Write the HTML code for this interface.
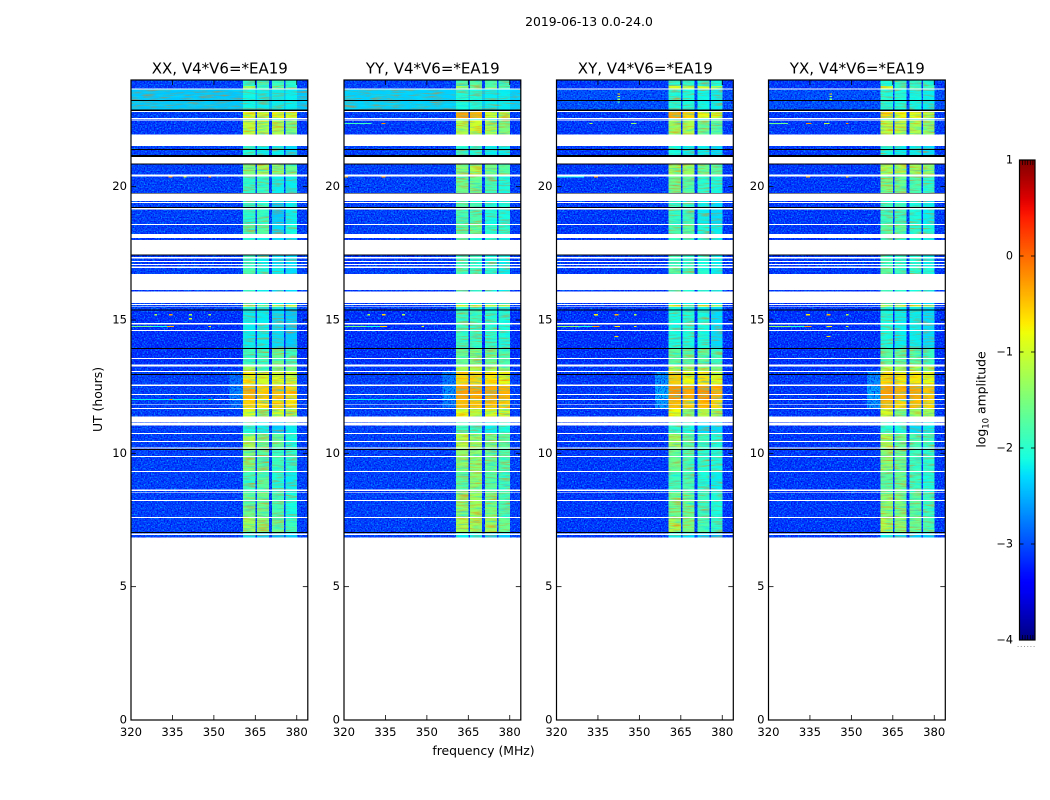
<!DOCTYPE html>
<html lang="en">
<head>
<meta charset="utf-8">
<title>2019-06-13 0.0-24.0 amplitude waterfalls</title>
<style>
html,body{margin:0;padding:0;background:#fff;}
svg{display:block;}
text{font-family:"DejaVu Sans","Liberation Sans",sans-serif;fill:#000;}
</style>
</head>
<body>
<svg id="figure" xmlns="http://www.w3.org/2000/svg" width="1050" height="800" viewBox="0 0 1050 800">
  <defs>
    <filter id="speckle" x="0" y="0" width="100%" height="100%" color-interpolation-filters="sRGB">
      <feTurbulence type="fractalNoise" baseFrequency="0.7" numOctaves="1" seed="7" result="noise"/>
      <feColorMatrix in="noise" type="matrix" values="0 0 0 0 0  0 0 0 0 0.6  0 0 0 0 1  3 0 0 0 -1.3" result="lightSpeck"/>
      <feColorMatrix in="noise" type="matrix" values="0 0 0 0 0  0 0 0 0 0  0 0 0 0 0.9  0 3 0 0 -1.4" result="darkSpeck"/>
      <feComposite in="lightSpeck" in2="SourceAlpha" operator="in" result="lightIn"/>
      <feComposite in="darkSpeck" in2="SourceAlpha" operator="in" result="darkIn"/>
      <feMerge><feMergeNode in="SourceGraphic"/><feMergeNode in="lightIn"/><feMergeNode in="darkIn"/></feMerge>
    </filter>
    <filter id="ripple" x="0" y="0" width="100%" height="100%" color-interpolation-filters="sRGB">
      <feTurbulence type="fractalNoise" baseFrequency="0.07 0.6" numOctaves="2" seed="11" result="noise"/>
      <feColorMatrix in="noise" type="matrix" values="0 0 0 0 1  0 0 0 0 0.45  0 0 0 0 0  1.6 0 0 0 -0.75" result="warm"/>
      <feColorMatrix in="noise" type="matrix" values="0 0 0 0 0  0 0 0 0 0.9  0 0 0 0 1  0 1.6 0 0 -0.75" result="cool"/>
      <feComposite in="warm" in2="SourceAlpha" operator="in" result="warmIn"/>
      <feComposite in="cool" in2="SourceAlpha" operator="in" result="coolIn"/>
      <feMerge><feMergeNode in="SourceGraphic"/><feMergeNode in="warmIn"/><feMergeNode in="coolIn"/></feMerge>
    </filter>
    <linearGradient id="jet-gradient" x1="0" y1="1" x2="0" y2="0"></linearGradient>
  </defs>
  <text x="589" y="26" font-size="12.4" text-anchor="middle">2019-06-13 0.0-24.0</text>
  <text x="483.5" y="755" font-size="12.4" text-anchor="middle">frequency (MHz)</text>
  <text x="0" y="0" font-size="12.4" text-anchor="middle" transform="translate(102,399.5) rotate(-90)">UT (hours)</text>
  <text x="0" y="0" font-size="12.4" text-anchor="middle" transform="translate(985.5,399.5) rotate(-90)">log<tspan font-size="8.5" dy="3">10</tspan><tspan dy="-3"> amplitude</tspan></text>
  <g id="panels"></g>
  <g id="colorbar"></g>
</svg>
<script>
// ---------- axis values ----------
const panelTitles = ["XX, V4*V6=*EA19", "YY, V4*V6=*EA19", "XY, V4*V6=*EA19", "YX, V4*V6=*EA19"];
const xTicks = [320, 335, 350, 365, 380];
const yTicks = [0, 5, 10, 15, 20];
const cbarTicks = [1, 0, -1, -2, -3, -4];

// ---------- heatmap rows: UT hour of each row's top edge; last row ends at 0 h ----------
const WHITE = -1;
const BLACK = -2;
const rowHours = [24,23.775,23.69,23.64,23.25,23.21,22.89,22.84,22.8,22.575,22.54,22.52,22.48,21.95,21.525,21.41,21.375,21.19,21.11,20.87,20.83,20.46,20.38,19.76,19.74,19.46,19.425,19.39,19.24,19.2,19.14,18.6,18.56,18.225,18.075,18,17.46,17.42,17.36,17.31,17.21,17.175,17.1,17.06,17.01,16.95,16.725,16.125,16.07,15.64,15.6,15.56,15.51,15.49,15.39,15.36,14.89,14.83,14.625,14.59,13.95,13.91,13.575,13.54,13.33,13.26,13.09,13.05,12.975,12.94,12.58,12.525,12.225,12.19,12.04,12,11.83,11.81,11.7,11.66,11.38,11.16,11.14,11.04,10.76,10.725,10.46,10.425,10.22,10.18,10.16,10.125,9.9,9.86,9.34,9.3,8.64,8.59,8.55,8.53,8.25,8.21,7.61,7.575,7.05,7.01,6.99,6.94,6.84];
const rowProfile = [0,1,WHITE,2,BLACK,2,BLACK,WHITE,3,WHITE,5,WHITE,4,WHITE,5,BLACK,5,BLACK,WHITE,BLACK,6,WHITE,7,BLACK,WHITE,5,WHITE,8,BLACK,WHITE,8,WHITE,9,WHITE,10,WHITE,BLACK,10,WHITE,10,WHITE,10,WHITE,10,WHITE,11,WHITE,10,WHITE,5,WHITE,12,WHITE,5,BLACK,13,WHITE,13,WHITE,13,BLACK,14,WHITE,14,WHITE,15,WHITE,16,BLACK,16,WHITE,17,WHITE,17,WHITE,18,WHITE,18,WHITE,19,WHITE,20,WHITE,20,WHITE,21,WHITE,21,WHITE,22,BLACK,22,WHITE,22,WHITE,23,WHITE,23,WHITE,24,WHITE,24,WHITE,25,BLACK,26,WHITE,26,WHITE];

// ---------- heatmap columns: frequency edges (MHz) and the profile slot each column reads ----------
const freqEdges = [320,355.7,360.6,365,365.6,370,371,375.4,376,380,384];
const columnSlot = [0,5,1,0,2,0,3,0,4,0];

// ---------- log10 amplitude per profile: background, band1..band4, optional shoulder ----------
const xxLevels = [[-3.1,-2,-1.9,-1.9,-2],[-3.1,-1.3,-1.9,-1.7,-1.9],[-2.4,-2.15,-2.2,-2.2,-2.2],[-3.1,-0.9,-1,-0.75,-1],[-3.15,-1.05,-1.15,-1.2,-1.5],[-3.1,-2.1,-2.2,-2.2,-2.3],[-3.1,-1.5,-1.3,-1.4,-1.6],[-3.1,-2,-1.9,-2.2,-2.2],[-3.1,-2,-1.9,-2.4,-2.2],[-3.1,-1.8,-1.7,-2.3,-2.1],[-3.15,-2,-2.2,-2.3,-2.3],[-3.1,-1.8,-2.1,-2.2,-2.3],[-3.1,-1,-1.6,-1.1,-1.1],[-3.2,-2.2,-2.2,-2.3,-2.4],[-3.2,-1.9,-1.9,-1.6,-1.9],[-3.15,-1.3,-1.7,-1.5,-1.6],[-3.1,-0.7,-1,-0.85,-1,-2.8],[-3.1,-0.4,-0.55,-0.45,-0.6,-2.7],[-3.1,-0.6,-0.7,-0.6,-0.7,-2.8],[-3.1,-0.95,-1.5,-0.95,-1.1],[-3.1,-2.1,-2.2,-2.4,-2.2],[-3.1,-1.2,-1.6,-1.7,-2.1],[-3.1,-1.5,-1.7,-1.9,-2],[-3.1,-1.9,-1.7,-2.1,-2.2],[-3.1,-1.6,-1.6,-1.8,-2.1],[-3.1,-1.3,-1.4,-1.6,-1.9],[-3.1,-2.3,-2.4,-2.5,-2.4]];
const yyLevels = [[-3.1,-1.8,-1.7,-1.8,-1.9],[-3.1,-1.2,-1.7,-1.6,-1.8],[-2.35,-2.1,-2.1,-2.2,-2.2],[-3.1,-0.35,-0.4,-1,-1.2],[-3.15,-1.2,-1,-1.2,-1.5],[-3.1,-2,-2.1,-2.2,-2.2],[-3.1,-1.4,-1.2,-1.5,-1.7],[-3.1,-1.6,-1.6,-1.9,-2.1],[-3.1,-1.8,-1.8,-2.1,-2.1],[-3.1,-1.7,-1.6,-2,-2],[-3.15,-1.9,-2,-2.1,-2.2],[-3.1,-1.8,-1.9,-2,-2.2],[-3.1,-1,-1.1,-1.1,-1.2],[-3.2,-1.9,-1.9,-2,-2.1],[-3.2,-1.6,-1.5,-1.6,-1.8],[-3.15,-1.2,-1.2,-1.3,-1.4],[-3.1,-0.6,-0.6,-0.7,-0.8,-2.75],[-3.1,-0.3,-0.35,-0.35,-0.4,-2.6],[-3.1,-0.45,-0.5,-0.5,-0.55,-2.75],[-3.1,-0.85,-1.1,-0.95,-1],[-3.1,-1.9,-2,-2.2,-2.1],[-3.1,-1.1,-1.3,-1.5,-1.7],[-3.1,-1.4,-1.4,-1.6,-1.8],[-3.1,-1.7,-1.4,-1.7,-1.9],[-3.1,-1.4,-1.3,-1.5,-1.8],[-3.1,-1.2,-1.2,-1.3,-1.6],[-3.1,-2.2,-2.2,-2.4,-2.4]];
const xyLevels = [[-3.15,-2.05,-2,-2,-2.1],[-3.15,-0.95,-1.1,-1,-1.2],[-3,-2.05,-2.1,-2.15,-2.2],[-3.15,-0.35,-0.6,-0.8,-0.9],[-3.15,-1.3,-1.2,-1.6,-1.7],[-3.15,-2.1,-2.2,-2.2,-2.3],[-3.15,-1.3,-1.3,-1.6,-1.7],[-3.15,-1.6,-1.7,-2,-2.1],[-3.15,-1.9,-1.9,-2.2,-2.3],[-3.15,-1.8,-1.7,-2.1,-2.2],[-3.15,-1.9,-2,-2.1,-2.2],[-3.15,-1.7,-1.9,-2,-2.2],[-3.15,-1,-1.4,-1.1,-1.2],[-3.2,-2.1,-2.1,-2.1,-2.3],[-3.2,-1.7,-1.7,-1.7,-1.9],[-3.15,-1.1,-1.4,-1.3,-1.5],[-3.15,-0.55,-0.8,-0.7,-0.9,-2.6],[-3.15,-0.25,-0.35,-0.25,-0.4,-2.45],[-3.15,-0.45,-0.55,-0.45,-0.6,-2.55],[-3.15,-0.8,-1.4,-1.2,-1.3],[-3.15,-2,-2.1,-2.3,-2.3],[-3.15,-1.3,-1.7,-1.9,-2.1],[-3.15,-1.6,-1.8,-2,-2.1],[-3.15,-1.9,-1.8,-2.1,-2.2],[-3.15,-1.6,-1.6,-1.9,-2.1],[-3.15,-1.2,-1.5,-1.8,-2],[-3.15,-2.2,-2.3,-2.4,-2.5]];
const yxLevels = [[-3.15,-2.05,-2,-2,-2.1],[-3.15,-1,-1.9,-1.8,-1.9],[-3,-2.05,-2.1,-2.15,-2.2],[-3.15,-0.6,-0.8,-0.9,-1.1],[-3.15,-1.1,-1.1,-1.2,-1.4],[-3.15,-2.1,-2.2,-2.2,-2.3],[-3.15,-1.2,-1.2,-1.3,-1.4],[-3.15,-1.5,-1.6,-1.8,-2],[-3.15,-1.9,-1.9,-2.1,-2.2],[-3.15,-1.7,-1.7,-2,-2.1],[-3.15,-1.9,-2,-2.1,-2.2],[-3.15,-1.7,-1.9,-2,-2.1],[-3.15,-1.1,-1,-1.1,-1.2],[-3.2,-2.1,-2.2,-2.2,-2.3],[-3.2,-1.7,-1.7,-1.7,-1.9],[-3.15,-1.2,-1.3,-1.2,-1.3],[-3.15,-0.6,-0.7,-0.7,-0.85,-2.65],[-3.15,-0.3,-0.4,-0.35,-0.5,-2.5],[-3.15,-0.45,-0.6,-0.5,-0.6,-2.6],[-3.15,-0.95,-1.5,-1.3,-1.3],[-3.15,-2,-2.1,-2.3,-2.2],[-3.15,-1.2,-1.6,-1.8,-1.9],[-3.15,-1.4,-1.6,-1.9,-2],[-3.15,-1.7,-1.6,-1.9,-2.1],[-3.15,-1.4,-1.5,-1.7,-1.9],[-3.15,-1.2,-1.4,-1.6,-1.8],[-3.15,-2.2,-2.3,-2.4,-2.4]];

// ---------- narrow-band interference: hour, start MHz, end MHz, log10 amplitude ----------
const xxSpikes = [[20.39,333.5,335,-0.2],[20.39,348,349,-0.2],[20.39,339,340,-1],[15.22,328.5,329.5,-1.2],[15.22,333.7,335,-0.3],[15.22,341,342,-1.2],[15.22,348,349,-1.2],[15.07,341,342,-1],[14.775,320,328,-1.6],[14.775,328,333,-2.1],[14.775,333,335.5,-0.4],[14.775,348,349,-0.7],[12.04,320,350,-2.2],[12.04,334,335,-0.3],[12.04,348,349,-0.3]];
const yySpikes = [[22.39,320,330,-1.9],[22.39,333.5,335,-0.2],[20.39,320,321.5,-0.4],[20.39,333.5,335,-0.2],[15.22,328.5,329.5,-1.2],[15.22,333.7,335,-0.6],[15.22,341,342,-1.2],[14.775,320,328,-1.6],[14.775,328,333,-2.1],[14.775,333,335.5,-0.6],[14.775,348,349,-0.9],[12.04,320,350,-2.2]];
const xySpikes = [[23.5,342,343,-0.5],[23.4,342,343,-1],[23.3,342,343,-1.5],[23.2,342,343,-1.7],[22.39,332,333,-1.2],[22.39,347,349,-1.4],[20.39,333.5,335,-0.2],[20.39,320,330,-2.2],[15.22,333.5,335,-0.7],[15.22,341,342.5,-0.4],[15.22,348,349,-1.2],[14.775,320,328,-1.4],[14.775,328,333,-2],[14.775,333,335.5,-0.3],[14.775,341,343,-0.7],[14.775,348,349,-0.8],[14.4,341,342.5,-0.6]];
const yxSpikes = [[23.5,342,343,-0.5],[23.4,342,343,-1.2],[23.3,342,343,-1.6],[22.39,320,327,-1.6],[22.39,333.5,335.5,-0.2],[22.39,348,349,-0.2],[22.39,340,342,-1.1],[20.39,333.5,335,-0.3],[20.39,348,349,-0.3],[15.22,333.5,335,-0.7],[15.22,341,342.5,-0.4],[15.22,348,349,-1.1],[14.775,320,328,-1.4],[14.775,328,333,-2],[14.775,333,335.5,-0.3],[14.775,341,343,-0.7],[14.775,348,349,-0.9],[14.4,341,342.5,-0.6]];

// ---------- layout & scales ----------
const panelLevels = [xxLevels, yyLevels, xyLevels, yxLevels];
const panelSpikes = [xxSpikes, yySpikes, xySpikes, yxSpikes];
const panelKeys = ["xx", "yy", "xy", "yx"];
const axLeft = [131, 344, 556.5, 768.5];
const axW = 176.8, axTop = 80, axBottom = 720;
const freqMin = 320, freqMax = 384, hourMin = 0, hourMax = 24;
const xScale = (p, f) => axLeft[p] + (f - freqMin) / (freqMax - freqMin) * axW;
const yScale = h => axBottom - (h - hourMin) / (hourMax - hourMin) * (axBottom - axTop);
const cbarLeft = 1019.5, cbarRight = 1035, cbarTop = 160, cbarBottom = 640, cbarMin = -4, cbarMax = 1;
const cbarY = v => cbarBottom - (v - cbarMin) / (cbarMax - cbarMin) * (cbarBottom - cbarTop);

// matplotlib "jet" segment tables
const jetR = [[0,0],[0.35,0],[0.66,1],[0.89,1],[1,0.5]];
const jetG = [[0,0],[0.125,0],[0.375,1],[0.64,1],[0.91,0],[1,0]];
const jetB = [[0,0.5],[0.11,1],[0.34,1],[0.65,0],[1,0]];
function seg(tab, t) {
  for (let i = 1; i < tab.length; i++) {
    if (t <= tab[i][0]) {
      const a = tab[i - 1], b = tab[i];
      return a[1] + (b[1] - a[1]) * (t - a[0]) / (b[0] - a[0]);
    }
  }
  return tab[tab.length - 1][1];
}
function jet(v) {
  const t = Math.max(0, Math.min(1, (v - cbarMin) / (cbarMax - cbarMin)));
  return "rgb(" + Math.round(seg(jetR, t) * 255) + "," + Math.round(seg(jetG, t) * 255) + "," + Math.round(seg(jetB, t) * 255) + ")";
}

const NS = "http://www.w3.org/2000/svg";
function mk(tag, attrs, parent) {
  const el = document.createElementNS(NS, tag);
  for (const k in attrs) el.setAttribute(k, attrs[k]);
  parent.appendChild(el);
  return el;
}

// ---------- panels ----------
const panelsRoot = document.getElementById("panels");
panelTitles.forEach((title, p) => {
  const key = panelKeys[p];
  const g = mk("g", {}, panelsRoot);
  
  

  const heatBg = mk("g", {filter: "url(#speckle)", "shape-rendering": "crispEdges"}, g);
  
  
  const heatBands = mk("g", {filter: "url(#ripple)", "shape-rendering": "crispEdges"}, g);
  
  
  const overlay = mk("g", {"shape-rendering": "crispEdges"}, g);
  
  

  const levels = panelLevels[p];
  rowHours.forEach((hTop, r) => {
    const hBot = r + 1 < rowHours.length ? rowHours[r + 1] : hourMin;
    const prof = rowProfile[r];
    const y0 = yScale(hTop), y1 = yScale(hBot);
    if (prof === WHITE) return;
    if (prof === BLACK) {
      const line = mk("rect", {x: xScale(p, freqMin), y: y0, width: axW, height: y1 - y0, fill: "#000"}, overlay);
      
      
      return;
    }
    const vec = levels[prof];
    columnSlot.forEach((slot, c) => {
      const val = vec[slot] !== undefined ? vec[slot] : vec[0];
      const x0 = xScale(p, freqEdges[c]), x1 = xScale(p, freqEdges[c + 1]);
      let target = heatBands;
      if ((slot === 0 || slot === 5) && val <= -2.42) target = heatBg;
      const cell = mk("rect", {x: x0, y: y0, width: x1 - x0, height: y1 - y0, fill: jet(val)}, target);
      
      
    });
  });

  panelSpikes[p].forEach(s => {
    const sy = yScale(s[0]);
    const spike = mk("rect", {x: xScale(p, s[1]), y: sy, width: xScale(p, s[2]) - xScale(p, s[1]), height: 1.2, fill: jet(s[3])}, overlay);
    
    
  });

  const frame = mk("rect", {x: axLeft[p], y: axTop, width: axW, height: axBottom - axTop, fill: "none", stroke: "#000", "stroke-width": 1.2}, g);
  
  

  const ttl = mk("text", {x: axLeft[p] + axW / 2 + 0.4, y: 73.7, "font-size": 15, "text-anchor": "middle"}, g);
  ttl.textContent = title;
  
  

  xTicks.forEach(f => {
    const x = xScale(p, f);
    const bottomTick = mk("line", {x1: x, x2: x, y1: axBottom, y2: axBottom - 5, stroke: "#000", "stroke-width": 0.8}, g);
    
    
    const topTick = mk("line", {x1: x, x2: x, y1: axTop, y2: axTop + 5, stroke: "#000", "stroke-width": 0.8}, g);
    
    
    const lab = mk("text", {x: x, y: 736, "font-size": 11.6, "text-anchor": "middle"}, g);
    lab.textContent = f;
    
    
  });
  yTicks.forEach(h => {
    const y = yScale(h);
    const leftTick = mk("line", {x1: axLeft[p], x2: axLeft[p] + 5, y1: y, y2: y, stroke: "#000", "stroke-width": 0.8}, g);
    
    
    const rightTick = mk("line", {x1: axLeft[p] + axW, x2: axLeft[p] + axW - 5, y1: y, y2: y, stroke: "#000", "stroke-width": 0.8}, g);
    
    
    const lab = mk("text", {x: axLeft[p] - 4, y: y + 3.5, "font-size": 11.6, "text-anchor": "end"}, g);
    lab.textContent = h;
    
    
  });
});

// ---------- colorbar ----------
const grad = document.getElementById("jet-gradient");
for (let i = 0; i <= 50; i++) {
  mk("stop", {offset: (i * 2) + "%", "stop-color": jet(cbarMin + (cbarMax - cbarMin) * i / 50)}, grad);
}
const cb = document.getElementById("colorbar");
const bar = mk("rect", {x: cbarLeft, y: cbarTop, width: cbarRight - cbarLeft, height: cbarBottom - cbarTop, fill: "url(#jet-gradient)", stroke: "#000", "stroke-width": 1.2}, cb);


cbarTicks.forEach(v => {
  const y = cbarY(v);
  const l = mk("line", {x1: cbarLeft, x2: cbarLeft + 4, y1: y, y2: y, stroke: "#000", "stroke-width": 0.8}, cb);
  
  
  const r = mk("line", {x1: cbarRight, x2: cbarRight - 4, y1: y, y2: y, stroke: "#000", "stroke-width": 0.8}, cb);
  
  
  const lab = mk("text", {x: 1013, y: y + 3.4, "font-size": 11.2, "text-anchor": "end"}, cb);
  lab.textContent = v < 0 ? "\u2212" + (-v) : String(v);
  
  
});
for (let i = 0; i < 5; i++) {
  const cx = cbarLeft + 2.6 * (i + 1) + 0.4;
  const topComb = mk("line", {x1: cx, x2: cx, y1: cbarTop, y2: cbarTop + 5, stroke: "#000", "stroke-width": 0.7}, cb);
  
  
  const botComb = mk("line", {x1: cx, x2: cx, y1: cbarBottom, y2: cbarBottom - 5, stroke: "#000", "stroke-width": 0.7}, cb);
  
  
}
for (let i = 0; i < 6; i++) {
  const dot = mk("rect", {x: 1017.6 + i * 3.2, y: 646, width: 1, height: 1, fill: "#999"}, cb);
  
  
}
</script>
</body>
</html>
